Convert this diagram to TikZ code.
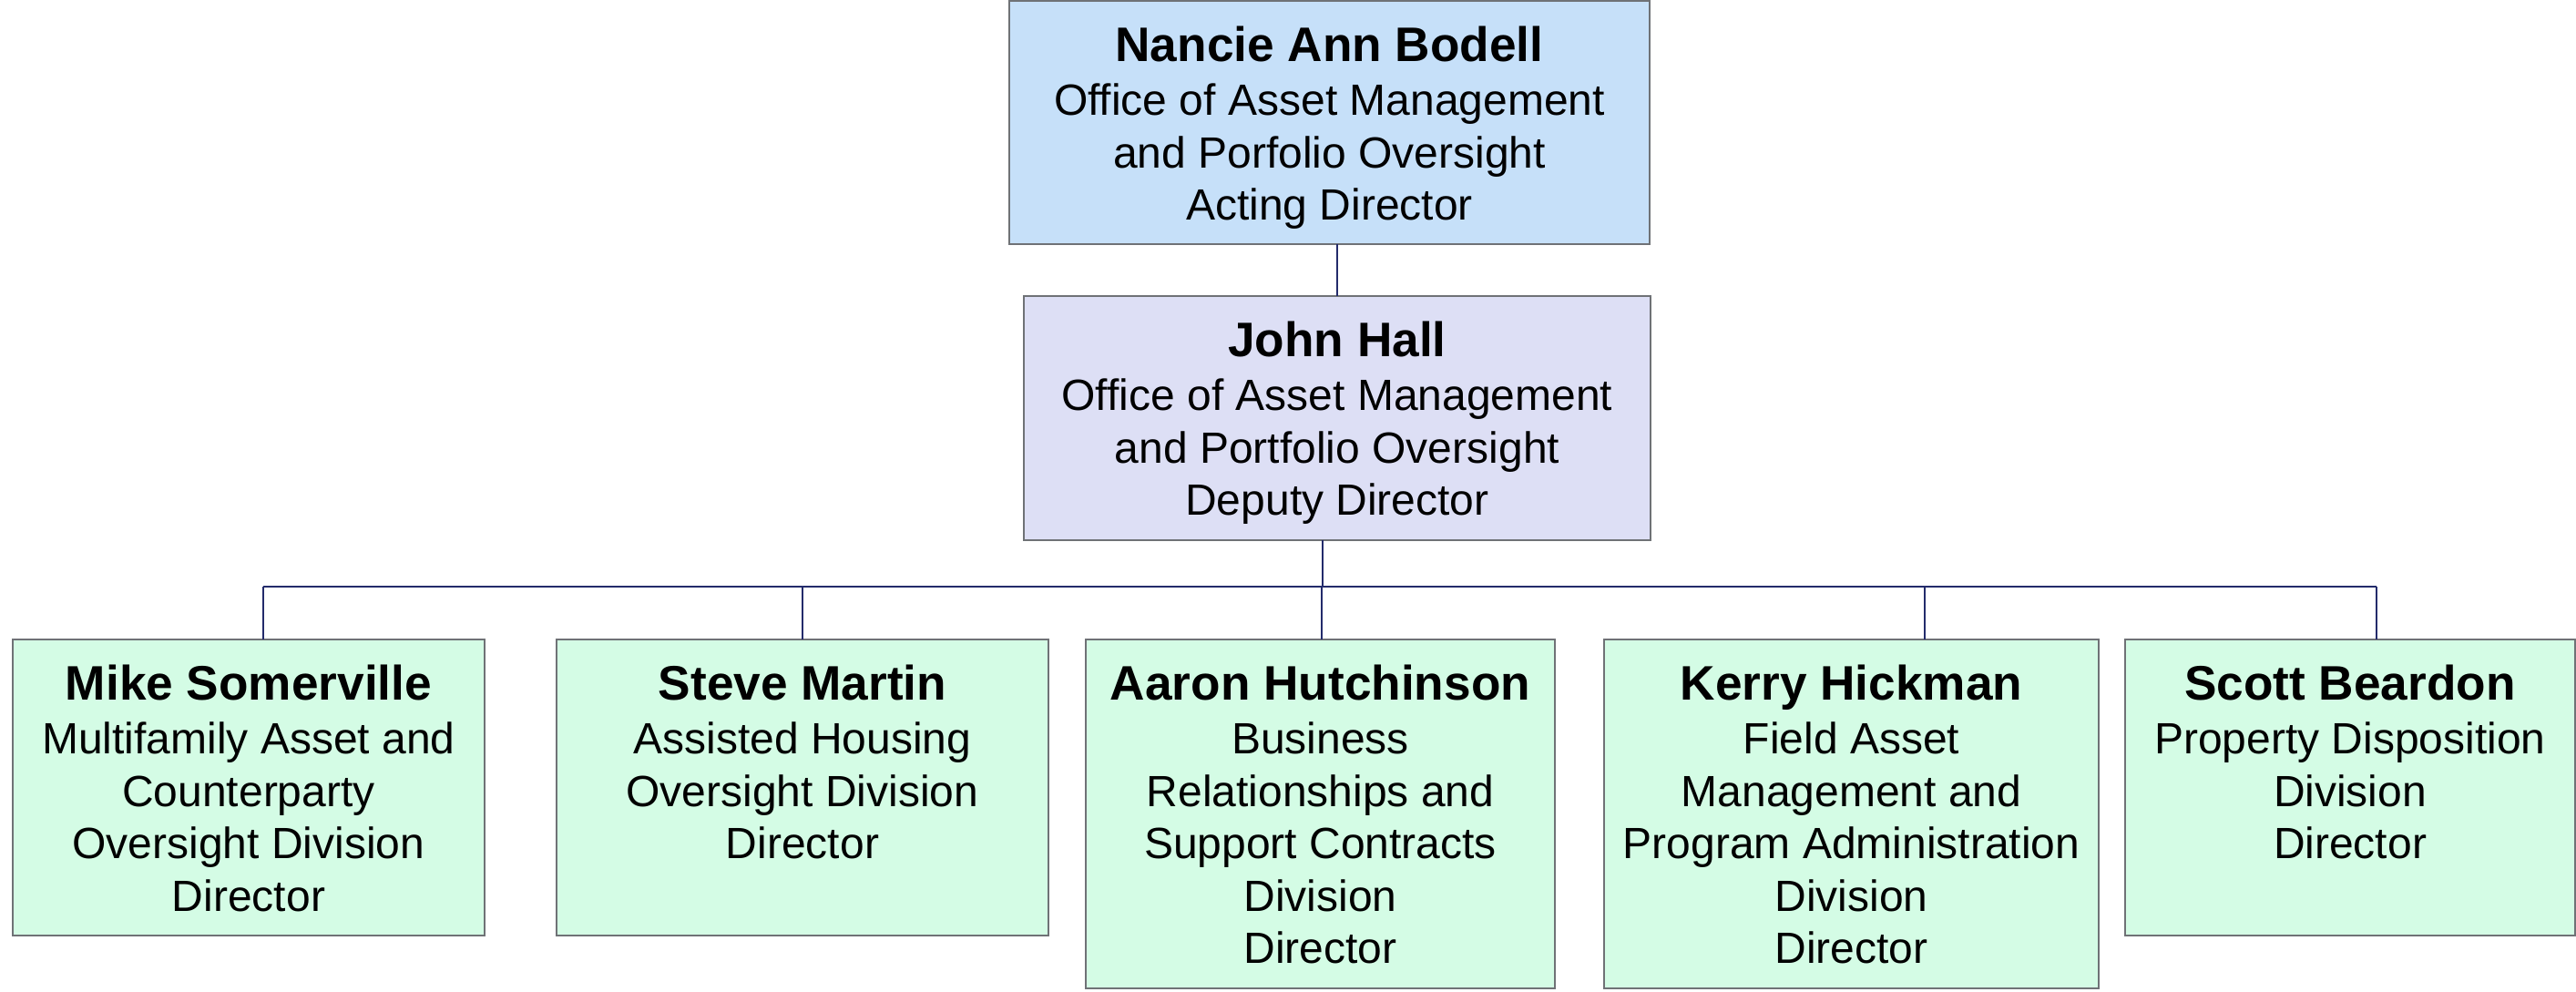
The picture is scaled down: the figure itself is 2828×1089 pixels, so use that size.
\documentclass[tikz,border=0pt]{standalone}
\usepackage{fontspec}
\setmainfont{Liberation Sans}
\definecolor{cA}{HTML}{C6E0F9}
\definecolor{cB}{HTML}{DDDFF5}
\definecolor{cC}{HTML}{D4FCE5}
\definecolor{cBorder}{HTML}{6F7276}
\definecolor{cLine}{HTML}{232B6B}
\newcommand\namefont{\bfseries\fontsize{13.3}{14.4}\selectfont}
\newcommand\orgtext[4]{\parbox[t][#2][t]{#1}{\centering\rule{0pt}{16.6pt}{\namefont #3}\\[0.4pt]#4\par}}
\tikzset{
  orgbox/.style={draw=cBorder, line width=0.4pt, inner sep=0pt, outer sep=0pt, anchor=north west},
  conn/.style={draw=cLine, line width=0.35pt}
}
\begin{document}
\begin{tikzpicture}[x=0.25pt, y=-0.25pt, font=\fontsize{12}{14.4}\selectfont]
\useasboundingbox (0,0) rectangle (2828,1089);
\node[orgbox, fill=cA] (A) at (1108,1) {\orgtext{175.75pt}{66.75pt}{Nancie Ann Bodell}{Office of Asset Management\\and Porfolio Oversight\\Acting Director}};
\node[orgbox, fill=cB] (B) at (1124,325) {\orgtext{172pt}{67pt}{John Hall}{Office of Asset Management\\and Portfolio Oversight\\Deputy Director}};
\node[orgbox, fill=cC] (C1) at (14,702) {\orgtext{129.5pt}{81.25pt}{Mike Somerville}{Multifamily Asset and\\Counterparty\\Oversight Division\\Director}};
\node[orgbox, fill=cC] (C2) at (611,702) {\orgtext{135pt}{81.25pt}{Steve Martin}{Assisted Housing\\Oversight Division\\Director}};
\node[orgbox, fill=cC] (C3) at (1192,702) {\orgtext{128.75pt}{95.75pt}{Aaron Hutchinson}{Business\\Relationships and\\Support Contracts\\Division\\Director}};
\node[orgbox, fill=cC] (C4) at (1761,702) {\orgtext{135.75pt}{95.75pt}{Kerry Hickman}{Field Asset\\Management and\\Program Administration\\Division\\Director}};
\node[orgbox, fill=cC] (C5) at (2333,702) {\orgtext{123.5pt}{81.25pt}{Scott Beardon}{Property Disposition\\Division\\Director}};
\coordinate (bus) at (1452,644);
\coordinate (d1) at (289,644);
\coordinate (d2) at (881,644);
\coordinate (d3) at (1451,644);
\coordinate (d4) at (2113,644);
\coordinate (d5) at (2609,644);
\draw[conn] (B.north |- A.south) -- (B.north);
\draw[conn] (bus |- B.south) -- (bus);
\draw[conn] (d1) -- (d5);
\draw[conn] (d1) -- (d1 |- C1.north);
\draw[conn] (d2) -- (d2 |- C2.north);
\draw[conn] (d3) -- (d3 |- C3.north);
\draw[conn] (d4) -- (d4 |- C4.north);
\draw[conn] (d5) -- (d5 |- C5.north);
\end{tikzpicture}
\end{document}
